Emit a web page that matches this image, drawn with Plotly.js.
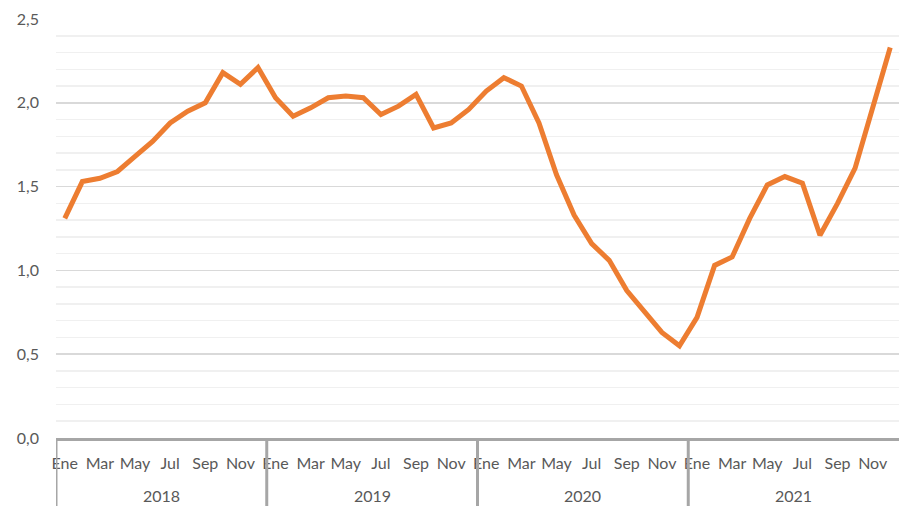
<!DOCTYPE html>
<html>
<head>
<meta charset="utf-8">
<script src="https://cdn.plot.ly/plotly-3.0.1.min.js"></script>
<style>html,body{margin:0;padding:0;background:#fff;}#chart{width:899px;height:506px;}</style>
</head>
<body>
<div id="chart"></div>
<script>
const years = ['2018', '2019', '2020', '2021'];
const months = ['Ene','Feb','Mar','Abr','May','Jun','Jul','Ago','Sep','Oct','Nov','Dic'];
const monthLabelsShown = ['Ene','Mar','May','Jul','Sep','Nov'];
const values2018 = [1.31,1.53,1.55,1.59,1.68,1.77,1.88,1.95,2.00,2.18,2.11,2.21];
const values2019 = [2.03,1.92,1.97,2.03,2.04,2.03,1.93,1.98,2.05,1.85,1.88,1.96];
const values2020 = [2.07,2.15,2.10,1.88,1.57,1.33,1.16,1.06,0.88,0.75,0.63,0.55];
const values2021 = [0.72,1.03,1.08,1.31,1.51,1.56,1.52,1.21,1.40,1.61,1.98,2.33];

const allValues = [].concat(values2018, values2019, values2020, values2021);
const xIdx = allValues.map((v, i) => i);
const labels = [];
years.forEach(y => months.forEach(m => labels.push(m + ' ' + y)));

const tickvals = [], ticktext = [];
years.forEach((y, yi) => months.forEach((m, mi) => {
  if (monthLabelsShown.indexOf(m) >= 0) { tickvals.push(yi * 12 + mi); ticktext.push(m); }
}));

const font = 'Lato, "Open Sans", sans-serif';
const shapes = years.map((y, yi) => ({
  type: 'line', xref: 'x', yref: 'paper',
  x0: yi * 12 - 0.5, x1: yi * 12 - 0.5, y0: 0, y1: -0.2,
  line: {color: '#a6a6a6', width: 3}
}));
const annotations = years.map((y, yi) => ({
  x: yi * 12 + 5.5, xref: 'x', y: -0.137, yref: 'paper',
  text: y, showarrow: false, xanchor: 'center', yanchor: 'middle',
  font: {family: font, size: 16, color: '#595959'}
}));

Plotly.newPlot('chart', [{
  x: xIdx, y: allValues, text: labels, type: 'scatter', mode: 'lines',
  line: {color: '#ed7d31', width: 5, shape: 'linear'},
  hoverinfo: 'text+y'
}], {
  width: 899, height: 506,
  margin: {l: 56, r: 0, t: 19, b: 68},
  paper_bgcolor: '#fff', plot_bgcolor: '#fff',
  separators: ',.',
  showlegend: false,
  font: {family: font, size: 16, color: '#595959'},
  xaxis: {
    range: [-0.5, 47.5], tickvals: tickvals, ticktext: ticktext,
    showgrid: false, zeroline: false, ticks: '',
    showline: true, linecolor: '#a6a6a6', linewidth: 3,
    ticklabelstandoff: 9,
    tickfont: {family: font, size: 16, color: '#595959'}
  },
  yaxis: {
    range: [0, 2.5], dtick: 0.5, tick0: 0, tickformat: '.1f',
    showgrid: true, gridcolor: '#d9d9d9', gridwidth: 1.5,
    minor: {dtick: 0.1, showgrid: true, gridcolor: '#f0f0f0', gridwidth: 1.5},
    zeroline: false, showline: false, ticks: '',
    ticklabelstandoff: 16,
    tickfont: {family: font, size: 16, color: '#595959'}
  },
  shapes: shapes,
  annotations: annotations
}, {displayModeBar: false, staticPlot: true});
</script>
</body>
</html>
